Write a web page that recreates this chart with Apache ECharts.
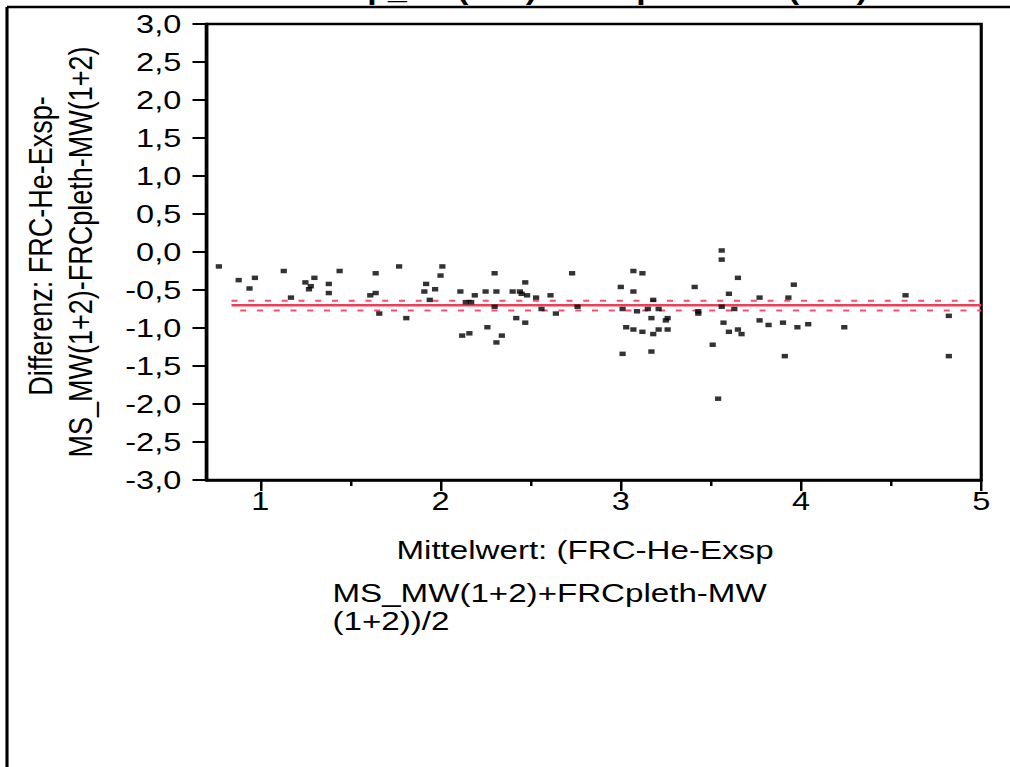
<!DOCTYPE html>
<html>
<head>
<meta charset="utf-8">
<title>Differenz vs. Mittelwert FRC</title>
<script src="https://cdn.jsdelivr.net/npm/echarts@6/dist/echarts.min.js"></script>
<style>
html, body { margin: 0; padding: 0; background: #fff; overflow: hidden; }
/* the original picture is stretched sideways, so the chart is drawn narrow and scaled */
#chart { width: 808px; height: 767px; transform: scaleX(1.25); transform-origin: 0 0; }
</style>
</head>
<body>
<div id="chart"></div>
<script>
// Mittelwert der beiden Messungen (x) und Differenz (y)
const meanValues = [
  0.77, 0.88, 0.94, 0.97, 1.13, 1.17, 1.25, 1.27, 1.28, 1.30, 1.38, 1.38, 1.44,
  1.61, 1.64, 1.64, 1.66, 1.77, 1.81, 1.91, 1.92, 1.94, 1.97, 2.00, 2.01,
  2.11, 2.12, 2.14, 2.16, 2.17, 2.19, 2.25, 2.26, 2.30, 2.30, 2.31, 2.31, 2.34,
  2.40, 2.42, 2.44, 2.45, 2.47, 2.47, 2.48, 2.53, 2.56, 2.61, 2.64, 2.73, 2.76,
  3.00, 3.01, 3.01, 3.03, 3.07, 3.07, 3.07, 3.09, 3.12, 3.12, 3.15, 3.17, 3.17,
  3.18, 3.18, 3.21, 3.21, 3.25, 3.26, 3.26, 3.41, 3.43, 3.43, 3.51, 3.54,
  3.56, 3.56, 3.56, 3.57, 3.60, 3.60, 3.63, 3.65, 3.65, 3.67, 3.77, 3.77, 3.82,
  3.90, 3.91, 3.93, 3.96, 3.98, 4.04, 4.24, 4.58, 4.82, 4.82
]
const diffValues = [
  -0.19, -0.37, -0.48, -0.34, -0.25, -0.60, -0.40, -0.49, -0.45, -0.34, -0.42, -0.54, -0.25,
  -0.57, -0.28, -0.54, -0.81, -0.19, -0.87, -0.52, -0.42, -0.63, -0.49, -0.31, -0.19,
  -0.52, -1.10, -0.66, -1.07, -0.66, -0.57, -0.52, -0.99, -0.28, -0.72, -0.52, -1.19, -1.10,
  -0.52, -0.87, -0.52, -0.55, -0.40, -0.93, -0.57, -0.60, -0.75, -0.57, -0.81, -0.28, -0.72,
  -0.46, -0.75, -1.34, -0.99, -0.25, -0.52, -1.02, -0.78, -0.28, -1.05, -0.75, -0.87, -1.31,
  -0.63, -1.08, -0.75, -1.02, -0.90, -0.87, -1.02, -0.46, -0.78, -0.81, -1.22, -1.93,
  0.02, -0.10, -0.72, -0.93, -0.55, -1.05, -0.75, -0.34, -1.02, -1.08, -0.60, -0.90, -0.96,
  -0.93, -1.37, -0.60, -0.43, -0.99, -0.95, -0.99, -0.57, -0.84, -1.37
]

// mittlere Differenz und Konfidenzgrenzen
const meanDiff = -0.70
const ciUpper = -0.64
const ciLower = -0.77
const refLineX = [0.84, 5]

const xMajorTicks = [1, 2, 3, 4, 5]
const xMinorTicks = [1.5, 2.5, 3.5, 4.5]

const fontFamily = '"Liberation Sans", Arial, sans-serif'

const points = meanValues.map((x, i) => [x, diffValues[i]])
const refLine = (y) => refLineX.map(x => [x, y])

const myChart = echarts.init(document.getElementById('chart'), null, { renderer: 'svg' })

const option = {
  animation: false,
  backgroundColor: '#fff',
  grid: {
    left: 165,
    right: 23,
    top: 24,
    bottom: 287,
    show: true,
    borderColor: '#000',
    borderWidth: 2.5
  },
  xAxis: [
    {
      type: 'value',
      min: 0.7,
      max: 5,
      axisLine: { show: true, onZero: false, lineStyle: { color: '#000', width: 2.5 } },
      axisTick: { show: true, customValues: xMajorTicks, length: 11, lineStyle: { color: '#000', width: 2 } },
      axisLabel: { customValues: xMajorTicks, color: '#000', fontSize: 26, fontFamily, margin: 8 },
      splitLine: { show: false }
    },
    {
      // kleine Striche bei x,5
      type: 'value',
      min: 0.7,
      max: 5,
      position: 'bottom',
      axisLine: { show: false, onZero: false },
      axisTick: { show: true, customValues: xMinorTicks, length: 6, lineStyle: { color: '#000', width: 2 } },
      axisLabel: { show: false },
      splitLine: { show: false }
    }
  ],
  yAxis: {
    type: 'value',
    min: -3,
    max: 3,
    interval: 0.5,
    axisLine: { show: true, onZero: false, lineStyle: { color: '#000', width: 2.5 } },
    axisTick: { show: true, length: 11, lineStyle: { color: '#000', width: 2 } },
    axisLabel: {
      color: '#000',
      fontSize: 26,
      fontFamily,
      margin: 20,
      formatter: v => v.toFixed(1).replace('.', ',')
    },
    splitLine: { show: false }
  },
  series: [
    {
      name: 'Mittelwert Differenz',
      type: 'line',
      data: refLine(meanDiff),
      symbol: 'none',
      silent: true,
      z: 2,
      lineStyle: { color: '#ee3f58', width: 2.5 }
    },
    {
      name: 'obere Grenze',
      type: 'line',
      data: refLine(ciUpper),
      symbol: 'none',
      silent: true,
      z: 2,
      lineStyle: { color: '#f2506a', width: 2, type: [4.8, 8.6] }
    },
    {
      name: 'untere Grenze',
      type: 'line',
      data: refLine(ciLower),
      symbol: 'none',
      silent: true,
      z: 2,
      lineStyle: { color: '#f2506a', width: 2, type: [4.8, 8.6], dashOffset: -6.7 }
    },
    {
      name: 'Differenz',
      type: 'scatter',
      data: points,
      symbol: 'rect',
      symbolSize: [5, 4.5],
      z: 5,
      itemStyle: { color: '#000' }
    }
  ],
  graphic: [
    {
      // Titel, oben fast ganz abgeschnitten
      type: 'text',
      silent: true,
      z: 1,
      x: 416,
      y: 3,
      style: {
        text: 'FRC-He-Exsp_MS(1+2) - FRCpleth-MW(1+2)',
        font: 'bold 27px ' + fontFamily,
        fill: '#000',
        textAlign: 'center',
        textVerticalAlign: 'bottom'
      }
    },
    {
      // Rahmen oben
      type: 'line',
      silent: true,
      z: 10,
      shape: { x1: 5.6, y1: 7, x2: 808, y2: 7 },
      style: { stroke: '#000', lineWidth: 2.5 }
    },
    {
      // Rahmen links
      type: 'line',
      silent: true,
      z: 10,
      shape: { x1: 5.6, y1: 7, x2: 5.6, y2: 767 },
      style: { stroke: '#000', lineWidth: 2.5 }
    },
    {
      type: 'text',
      silent: true,
      x: 32,
      y: 246,
      rotation: Math.PI / 2,
      style: {
        text: 'Differenz: FRC-He-Exsp-',
        font: '27px ' + fontFamily,
        fill: '#000',
        textAlign: 'center',
        textVerticalAlign: 'middle'
      }
    },
    {
      type: 'text',
      silent: true,
      x: 64,
      y: 252,
      rotation: Math.PI / 2,
      style: {
        text: 'MS_MW(1+2)-FRCpleth-MW(1+2)',
        font: '27px ' + fontFamily,
        fill: '#000',
        textAlign: 'center',
        textVerticalAlign: 'middle'
      }
    },
    {
      type: 'text',
      silent: true,
      x: 468,
      y: 550,
      style: {
        text: 'Mittelwert: (FRC-He-Exsp',
        font: '26.5px ' + fontFamily,
        fill: '#000',
        textAlign: 'center',
        textVerticalAlign: 'middle'
      }
    },
    {
      type: 'text',
      silent: true,
      x: 266,
      y: 593,
      style: {
        text: 'MS_MW(1+2)+FRCpleth-MW',
        font: '26.5px ' + fontFamily,
        fill: '#000',
        textAlign: 'left',
        textVerticalAlign: 'middle'
      }
    },
    {
      type: 'text',
      silent: true,
      x: 266,
      y: 621,
      style: {
        text: '(1+2))/2',
        font: '26.5px ' + fontFamily,
        fill: '#000',
        textAlign: 'left',
        textVerticalAlign: 'middle'
      }
    }
  ]
}

myChart.setOption(option)
</script>
</body>
</html>
